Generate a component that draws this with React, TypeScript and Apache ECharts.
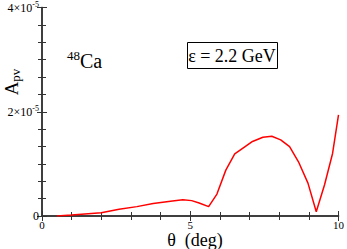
import React, { useEffect, useRef } from "react";
import * as echarts from "echarts";

const theta = [0.5, 1, 2, 2.6, 3.2, 3.75, 4.4, 4.75, 5.05, 5.3, 5.62, 5.9, 6.2, 6.5, 6.85, 7.1, 7.45, 7.75, 8.05, 8.35, 8.65, 8.97, 9.25, 9.53, 9.8, 10];
const apv = [0, 0.02, 0.063, 0.13, 0.18, 0.24, 0.29, 0.31, 0.295, 0.25, 0.18, 0.42, 0.88, 1.19, 1.33, 1.43, 1.51, 1.53, 1.46, 1.33, 1.04, 0.63, 0.08, 0.6, 1.2, 1.94];
const yTickLabels: Record<number, string> = { 0: "{a|0}", 2: "{a|2×10}{s|-5}", 4: "{a|4×10}{s|-5}" };

const FONT = "'Liberation Serif', 'Times New Roman', 'DejaVu Serif', serif";

export default function App() {
  const ref = useRef<HTMLDivElement>(null);
  useEffect(() => {
    const chart = echarts.init(ref.current!, undefined, { renderer: "svg" });
    const axisLine = { show: true, lineStyle: { color: "#333", width: 1.5 } };
    const tick = { show: true, inside: true, length: 5, lineStyle: { color: "#333", width: 1 } };
    const minor = (n: number) => ({ show: true, splitNumber: n, length: 4, lineStyle: { color: "#333", width: 1 } });
    chart.setOption({
      animation: false,
      backgroundColor: "#fff",
      textStyle: { fontFamily: FONT },
      grid: { left: 42, top: 7, right: 8, bottom: 33, containLabel: false },
      xAxis: [
        {
          type: "value", min: 0, max: 10, interval: 5, position: "bottom",
          axisLine, axisTick: tick, minorTick: minor(5), splitLine: { show: false },
          axisLabel: { fontFamily: FONT, fontSize: 11, lineHeight: 11, color: "#000", margin: 3 },
        },
        {
          type: "value", min: 0, max: 10, interval: 5, position: "top",
          axisLine, axisTick: tick, minorTick: minor(5), splitLine: { show: false },
          axisLabel: { show: false },
        },
      ],
      yAxis: [
        {
          type: "value", min: 0, max: 4, interval: 2, position: "left",
          axisLine, axisTick: tick, minorTick: minor(6), splitLine: { show: false },
          axisLabel: {
            margin: 3,
            fontFamily: FONT,
            formatter: (v: number) => yTickLabels[v] ?? "",
            rich: {
              a: { fontFamily: FONT, fontSize: 12, color: "#000" },
              s: { fontFamily: FONT, fontSize: 8, color: "#000", verticalAlign: "top", padding: [0, 0, 7, 0] },
            },
          },
        },
        {
          type: "value", min: 0, max: 4, interval: 2, position: "right",
          axisLine, axisTick: tick, minorTick: minor(6), splitLine: { show: false },
          axisLabel: { show: false },
        },
      ],
      series: [
        {
          type: "line",
          data: theta.map((t, i) => [t, apv[i]]),
          showSymbol: false,
          lineStyle: { color: "#ff0000", width: 1.5 },
          clip: true,
        },
      ],
      graphic: [
        {
          type: "text", x: 11, y: 82, rotation: Math.PI / 2,
          style: {
            text: "{a|A}{s|pv}", align: "center", verticalAlign: "middle", fontFamily: FONT,
            rich: {
              a: { fontFamily: FONT, fontSize: 19, fill: "#000" },
              s: { fontFamily: FONT, fontSize: 13, fill: "#000", padding: [8, 0, 0, 0] },
            },
          },
        },
        {
          type: "text", x: 67, y: 61,
          style: {
            text: "{s|48}{a|Ca}", verticalAlign: "middle", fontFamily: FONT,
            rich: {
              a: { fontFamily: FONT, fontSize: 20, fill: "#000" },
              s: { fontFamily: FONT, fontSize: 13, fill: "#000", padding: [0, 0, 12, 0] },
            },
          },
        },
        {
          type: "rect", shape: { x: 187.5, y: 42.5, width: 90, height: 26 },
          style: { fill: "#fff", stroke: "#000", lineWidth: 1 },
        },
        {
          type: "text", x: 232, y: 56,
          style: { text: "ε = 2.2 GeV", fontFamily: FONT, fontSize: 18, fill: "#000", align: "center", verticalAlign: "middle" },
        },
        {
          type: "text", x: 195, y: 239.5,
          style: { text: "θ  (deg)", fontFamily: FONT, fontSize: 18, lineHeight: 16, fill: "#000", align: "center", verticalAlign: "middle" },
        },
      ],
    });
    return () => chart.dispose();
  }, []);
  return <div ref={ref} style={{ width: 347, height: 249, position: "absolute", left: 0, top: 0 }} />;
}
